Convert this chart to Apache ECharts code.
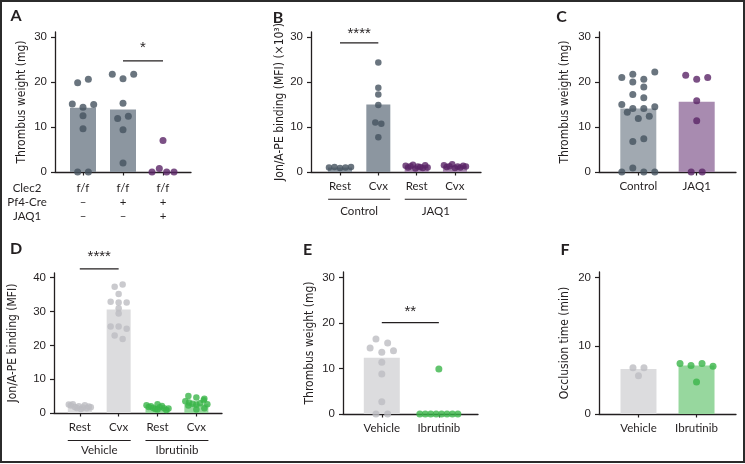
<!DOCTYPE html>
<html><head><meta charset="utf-8">
<script src="https://cdn.jsdelivr.net/npm/echarts@6/dist/echarts.min.js"></script>
<style>html,body{margin:0;padding:0;background:#fff}#c{width:745px;height:464px}</style>
</head><body><div id="c"></div>
<script>
// ================= DATA =================
// Panel A
const aRowNames = ['Clec2', 'Pf4-Cre', 'JAQ1'];
const aRow1 = ['f/f', 'f/f', 'f/f'];
const aRow2 = ['–', '+', '+'];
const aRow3 = ['–', '–', '+'];
const aBars = [14.3, 13.9, 0];
const aG1 = [19.8, 20.6, 15.1, 14.4, 15.0, 12.5, 9.6, 0, 0];
const aG2 = [21.7, 20.7, 21.7, 15.3, 11.9, 12.4, 9.4, 2.0];
const aG3 = [7.0, 0, 0.8, 0, 0];
const aSig = [1, 2, 24.7, '*'];
const aYTicks = [0, 10, 20, 30];

// Panel B
const bCats = ['Rest', 'Cvx', 'Rest', 'Cvx'];
const bGroups = ['Control', 'JAQ1'];
const bBars = [1.0, 15.0, 1.2, 1.3];
const bCtrlRest = [1.0, 1.1, 0.9, 1.0, 1.1];
const bCtrlCvx = [24.3, 18.7, 17.2, 14.9, 11.0, 10.7, 7.7];
const bJaqRest = [1.4, 1.0, 1.3, 1.6, 0.8, 1.2, 1.1, 0.9, 1.5, 1.0];
const bJaqCvx = [1.5, 1.1, 1.3, 1.7, 0.9, 1.2, 1.0, 1.4, 1.2];
const bSig = [0, 1, 28.7, '****'];
const bYTicks = [0, 10, 20, 30];

// Panel C
const cCats = ['Control', 'JAQ1'];
const cBars = [14.1, 15.6];
const cCtrl = [21.0, 21.7, 20.6, 22.2, 20.0, 18.9, 17.2, 16.5, 15.0, 14.1, 13.3, 14.1, 14.5, 11.9, 12.4, 6.8, 7.4, 0, 0.9, 0, 0];
const cJaq = [21.5, 20.6, 21.0, 15.8, 11.4, 0, 0];
const cYTicks = [0, 10, 20, 30];

// Panel D
const dCats = ['Rest', 'Cvx', 'Rest', 'Cvx'];
const dGroups = ['Vehicle', 'Ibrutinib'];
const dBars = [1.8, 30.6, 1.6, 2.6];
const dVehRest = [2.5, 2.2, 2.6, 1.8, 1.5, 2.0, 1.2, 1.6, 2.3, 1.4, 1.9, 1.7];
const dVehCvx = [37.3, 38.0, 35.2, 32.9, 32.7, 32.7, 31.0, 29.4, 25.6, 25.6, 24.9, 22.9, 21.9];
const dIbrRest = [2.6, 2.3, 1.8, 2.0, 1.5, 1.2, 1.0, 1.7, 2.1, 1.4, 0.9, 1.3];
const dIbrCvx = [5.0, 4.6, 4.2, 3.5, 3.1, 2.7, 2.5, 2.9, 3.8, 2.2, 1.0, 1.4, 2.6];
const dSig = [0, 1, 42.6, '****'];
const dYTicks = [0, 10, 20, 30, 40];

// Panel E
const eCats = ['Vehicle', 'Ibrutinib'];
const eBars = [12.4, 0];
const eVeh = [16.5, 15.6, 14.5, 13.6, 13.9, 11.4, 8.8, 2.7, 0, 0];
const eIbr = [9.9, 0, 0, 0, 0, 0, 0, 0, 0];
const eSig = [0, 1, 20.1, '**'];
const eYTicks = [0, 10, 20, 30];

// Panel F
const fCats = ['Vehicle', 'Ibrutinib'];
const fBars = [6.6, 7.1];
const fVeh = [6.8, 6.8, 5.6];
const fIbr = [7.4, 7.1, 7.4, 7.0, 4.7];
const fYTicks = [0, 10, 20];

// ================= STYLE =================
const INK = '#231f20';
const SLATE = '#45525f', SLATE_BAR = '#8c96a0', SLATE_BAR_C = '#a1a9b1';
const PURPLE = '#5a2466', PURPLE_BAR = '#a88bb0';
const GREY_DOT = '#bdbdc2', GREY_BAR = '#dcdcde';
const GREEN = '#3bb54a', GREEN_BAR = '#97d79e';
const NUMFONT = "'Liberation Sans', Arial, sans-serif";
const CATFONT = "Lato, 'Noto Sans', sans-serif";
const TITLEFONT = "'Liberation Sans Narrow', 'DejaVu Sans Condensed', 'Liberation Sans', sans-serif";

const panels = [
  { key: 'A', grid: { left: 55, top: 32, width: 136, height: 140 }, xmin: -0.7, xmax: 2.7, ymax: 31.1, yticks: aYTicks,
    cats: aRow1, title: 'Thrombus weight (mg)', nameGap: 27, barW: 26, s: 10.7, maxW: 22, binH: 7.5, labelMargin: 9,
    bars: aBars, barColors: [SLATE_BAR, SLATE_BAR, SLATE_BAR],
    groups: [{ pos: 0, vals: aG1, color: SLATE }, { pos: 1, vals: aG2, color: SLATE }, { pos: 2, vals: aG3, color: PURPLE }],
    sig: aSig, starGap: 5, letter: [16, 16] },
  { key: 'B', grid: { left: 311, top: 32, width: 170, height: 140 }, xmin: -0.757, xmax: 3.68, ymax: 31.1, yticks: bYTicks,
    cats: bCats, title: 'Jon/A-PE binding (MFI) (×10³)', nameGap: 25, barW: 24, s: 6, maxW: 22, binH: 5, labelMargin: 8,
    bars: bBars, barColors: [SLATE_BAR, SLATE_BAR, PURPLE_BAR, PURPLE_BAR],
    groups: [{ pos: 0, vals: bCtrlRest, color: SLATE }, { pos: 1, vals: bCtrlCvx, color: SLATE },
             { pos: 2, vals: bJaqRest, color: PURPLE }, { pos: 3, vals: bJaqCvx, color: PURPLE }],
    sig: bSig, starGap: 1, letter: [278, 18], groupLabels: bGroups, groupLineOff: 27.3, groupTextOff: 39.5 },
  { key: 'C', grid: { left: 599, top: 32, width: 137, height: 140 }, xmin: -0.673, xmax: 1.673, ymax: 31.1, yticks: cYTicks,
    cats: cCats, title: 'Thrombus weight (mg)', nameGap: 28, barW: 36, s: 11, maxW: 33, binH: 7.5, labelMargin: 8,
    bars: cBars, barColors: [SLATE_BAR_C, PURPLE_BAR],
    groups: [{ pos: 0, vals: cCtrl, color: SLATE }, { pos: 1, vals: cJaq, color: PURPLE }],
    letter: [561.5, 17] },
  { key: 'D', grid: { left: 54, top: 273, width: 168, height: 140 }, xmin: -0.664, xmax: 3.66, ymax: 41.4, yticks: dYTicks,
    cats: dCats, title: 'Jon/A-PE binding (MFI)', nameGap: 35, barW: 24, s: 8, maxW: 22, binH: 5, labelMargin: 8,
    bars: dBars, barColors: [GREY_BAR, GREY_BAR, GREEN_BAR, GREEN_BAR],
    groups: [{ pos: 0, vals: dVehRest, color: GREY_DOT }, { pos: 1, vals: dVehCvx, color: GREY_DOT },
             { pos: 2, vals: dIbrRest, color: GREEN }, { pos: 3, vals: dIbrCvx, color: GREEN }],
    sig: dSig, starGap: 4.5, letter: [16, 249], groupLabels: dGroups, groupLineOff: 27.5, groupTextOff: 37 },
  { key: 'E', grid: { left: 343, top: 272, width: 135, height: 142 }, xmin: -0.68, xmax: 1.686, ymax: 31.25, yticks: eYTicks,
    cats: eCats, title: 'Thrombus weight (mg)', nameGap: 27, barW: 36, s: 11.7, maxW: 38, binH: 5, labelMargin: 8,
    bars: eBars, barColors: [GREY_BAR, GREEN_BAR],
    groups: [{ pos: 0, vals: eVeh, color: GREY_DOT }, { pos: 1, vals: eIbr, color: GREEN }],
    sig: eSig, starGap: 3.5, letter: [307.5, 250] },
  { key: 'F', grid: { left: 599, top: 272, width: 137, height: 142 }, xmin: -0.68, xmax: 1.68, ymax: 20.84, yticks: fYTicks,
    cats: fCats, title: 'Occlusion time (min)', nameGap: 28, barW: 36, s: 11, maxW: 34, binH: 5, labelMargin: 8,
    bars: fBars, barColors: [GREY_BAR, GREEN_BAR],
    groups: [{ pos: 0, vals: fVeh, color: GREY_DOT }, { pos: 1, vals: fIbr, color: GREEN }],
    letter: [565, 250] }
];

// ================= BUILD =================
const chart = echarts.init(document.getElementById('c'), null, { renderer: 'canvas' });

const lineSty = { color: INK, width: 1.3 };
const grids = [], xAxes = [], yAxes = [], series = [];
panels.forEach((p, i) => {
  grids.push(Object.assign({ containLabel: false }, p.grid));
  const catIdx = p.cats.map((_, k) => k);
  xAxes.push({
    type: 'value', gridIndex: i, min: p.xmin, max: p.xmax,
    axisLine: { show: true, onZero: false, lineStyle: lineSty },
    splitLine: { show: false },
    axisTick: { show: true, length: 3.5, lineStyle: { color: INK, width: 1.2 }, customValues: catIdx },
    axisLabel: {
      show: true, customValues: catIdx, margin: p.labelMargin, color: INK,
      fontFamily: CATFONT, fontSize: 11.5,
      lineHeight: p.key === 'A' ? 14 : 13,
      formatter: (v) => {
        const k = Math.round(v);
        if (p.key === 'A') return aRow1[k] + '\n' + aRow2[k] + '\n' + aRow3[k];
        return p.cats[k];
      }
    }
  });
  yAxes.push({
    type: 'value', gridIndex: i, min: 0, max: p.ymax,
    axisLine: { show: true, onZero: false, lineStyle: lineSty }, splitLine: { show: false },
    axisTick: { show: true, length: 4, lineStyle: { color: INK, width: 1.2 }, customValues: p.yticks },
    axisLabel: { show: true, customValues: p.yticks, margin: 8, color: INK, fontFamily: NUMFONT, fontSize: 11.5 },
    name: p.title, nameLocation: 'middle', nameRotate: 90, nameGap: p.nameGap,
    nameTextStyle: { color: INK, fontFamily: TITLEFONT, fontSize: 12 }
  });
  series.push({
    type: 'bar', xAxisIndex: i, yAxisIndex: i, barWidth: p.barW, silent: true,
    data: p.bars.map((v, k) => ({ value: [k, v], itemStyle: { color: p.barColors[k] } }))
  });
});

chart.setOption({
  animation: false,
  grid: grids, xAxis: xAxes, yAxis: yAxes, series: series
});

// swarm layout computed in pixel space through the chart's own scales
function swarm(p, gi) {
  const o = chart.convertToPixel({ gridIndex: gi }, [0, 0]);
  const o1 = chart.convertToPixel({ gridIndex: gi }, [1, 1]);
  const ux = o1[0] - o[0], uy = o[1] - o1[1];
  const out = [];
  p.groups.forEach(g => {
    const order = g.vals.map((v, k) => k).sort((a, b) => (g.vals[a] - g.vals[b]) || (a - b));
    const bins = []; let cur = null;
    order.forEach(k => {
      const py = g.vals[k] * uy;
      if (!cur || py - cur.start > p.binH) { cur = { start: py, items: [] }; bins.push(cur); }
      cur.items.push(k);
    });
    bins.forEach(b => {
      b.items.sort((a, c) => a - c);
      const n = b.items.length;
      const step = n > 1 ? Math.min(p.s, p.maxW / (n - 1)) : 0;
      b.items.forEach((k, j) => {
        out.push({ value: [g.pos + (j - (n - 1) / 2) * step / ux, g.vals[k]], itemStyle: { color: g.color } });
      });
    });
  });
  return out;
}

const graphics = [];
const allSeries = series.slice();
panels.forEach((p, i) => {
  allSeries.push({
    type: 'scatter', xAxisIndex: i, yAxisIndex: i, symbolSize: p.key === 'B' || p.key === 'D' ? 6.5 : 7,
    silent: true, clip: false, z: 3,
    data: swarm(p, i)
  });
  graphics.push({ type: 'text', x: p.letter[0], y: p.letter[1],
    style: { text: p.key, fill: INK, font: "bold 16px Lato, 'Liberation Sans', sans-serif", align: 'center', verticalAlign: 'middle' } });
  if (p.sig) {
    const a = chart.convertToPixel({ gridIndex: i }, [p.sig[0], p.sig[2]]);
    const b = chart.convertToPixel({ gridIndex: i }, [p.sig[1], p.sig[2]]);
    graphics.push({ type: 'line', shape: { x1: a[0], y1: a[1], x2: b[0], y2: b[1] }, style: { stroke: INK, lineWidth: 1.2 } });
    graphics.push({ type: 'text', x: (a[0] + b[0]) / 2, y: a[1] - p.starGap,
      style: { text: p.sig[3], fill: INK, font: "15px 'Liberation Sans', Arial, sans-serif", align: 'center', verticalAlign: 'bottom' } });
  }
  if (p.groupLabels) {
    p.groupLabels.forEach((gl, k) => {
      const a = chart.convertToPixel({ gridIndex: i }, [2 * k - 0.31, 0]);
      const b = chart.convertToPixel({ gridIndex: i }, [2 * k + 1.31, 0]);
      const y = a[1] + p.groupLineOff;
      graphics.push({ type: 'line', shape: { x1: a[0], y1: y, x2: b[0], y2: y }, style: { stroke: INK, lineWidth: 1.1 } });
      graphics.push({ type: 'text', x: (a[0] + b[0]) / 2, y: a[1] + p.groupTextOff,
        style: { text: gl, fill: INK, font: "11.5px " + CATFONT, align: 'center', verticalAlign: 'middle' } });
    });
  }
  if (p.key === 'A') {
    const o = chart.convertToPixel({ gridIndex: i }, [p.xmin, 0]);
    aRowNames.forEach((r, k) => {
      graphics.push({ type: 'text', x: 27, y: o[1] + 16 + 14 * k,
        style: { text: r, fill: INK, font: "11.5px " + CATFONT, align: 'center', verticalAlign: 'middle' } });
    });
  }
});
graphics.push({ type: 'rect', shape: { x: 1, y: 1, width: 743, height: 461 }, style: { fill: null, stroke: '#2b2b2b', lineWidth: 2 }, silent: true });

chart.setOption({ series: allSeries, graphic: graphics });
</script>
</body></html>
